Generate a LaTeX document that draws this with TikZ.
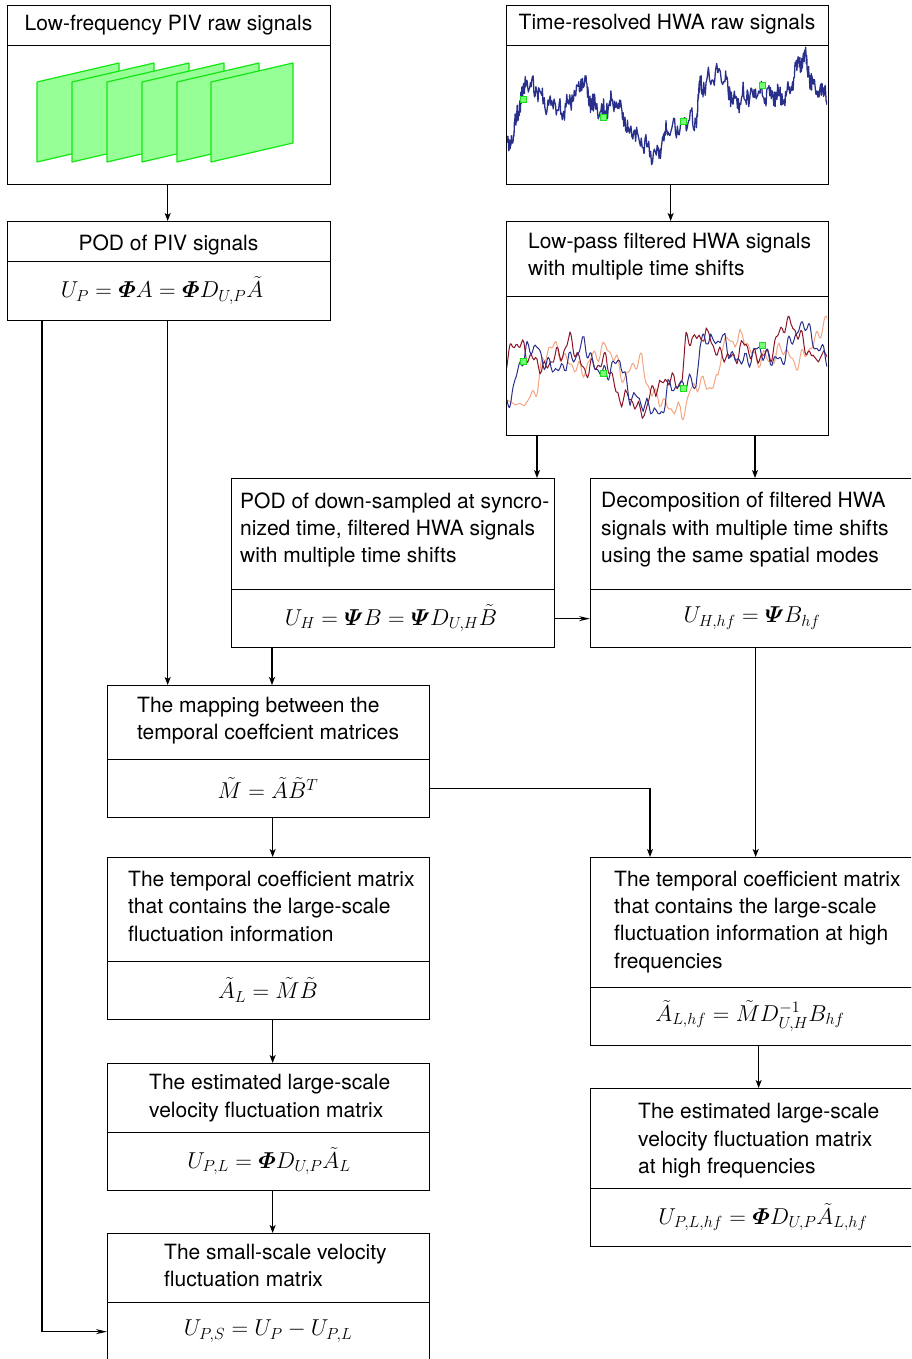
\RequirePackage{fix-cm}
\documentclass[tikz,border=0pt]{standalone}
\usepackage{amsmath}
\usepackage[no-math]{fontspec}
\setmainfont{TeX Gyre Heros}
\usetikzlibrary{arrows.meta}
\definecolor{navy}{RGB}{40,48,140}
\definecolor{dred}{RGB}{140,20,40}
\definecolor{salmon}{RGB}{244,165,130}
\definecolor{pfill}{RGB}{150,255,150}
\definecolor{pline}{RGB}{20,230,20}
\definecolor{gfill}{RGB}{120,255,120}
\definecolor{gline}{RGB}{30,220,30}
\tikzset{
  box/.style={draw=black, line width=1.3pt, inner sep=0pt, anchor=north west, rectangle},
  txt/.style={inner sep=0pt, align=left, anchor=north west, font=\fontsize{21}{27.3}\selectfont},
  ctxt/.style={txt, anchor=north},
  eq/.style={inner sep=0pt, font=\fontsize{23}{27.3}\selectfont},
  arr/.style={line width=1.2pt, -{Stealth[length=8pt,width=6pt,inset=2pt]}},
  harr/.style={line width=1.2pt, -{Stealth[length=11pt,width=5pt,inset=3.5pt]}},
  plane/.style={fill=pfill, draw=pline, line width=1.2pt, line join=round},
  gsq/.style={fill=gfill, draw=gline, line width=1pt},
}
\begin{document}
\begin{tikzpicture}[x=1pt,y=-1pt]
\useasboundingbox (0,0) rectangle (911,1359);
\clip (0,0) rectangle (911,1359);
\pgfmathsetseed{7}

% ---------- boxes ----------
\node[box, minimum width=323pt, minimum height=40pt]  (b1h) at (7,5) {};
\node[box, minimum width=323pt, minimum height=139pt] (b1b) at (7,45) {};
\node[box, minimum width=322pt, minimum height=40pt]  (hwah) at (506,5) {};
\node[box, minimum width=322pt, minimum height=139pt] (hwab) at (506,45) {};
\node[box, minimum width=323pt, minimum height=40pt]  (pivh) at (7,221) {};
\node[box, minimum width=323pt, minimum height=59pt]  (pivm) at (7,261) {};
\node[box, minimum width=322pt, minimum height=75pt]  (lph) at (506,221) {};
\node[box, minimum width=322pt, minimum height=139pt] (lpb) at (506,296) {};
\node[box, minimum width=323pt, minimum height=111pt] (podhh) at (231,478) {};
\node[box, minimum width=323pt, minimum height=58pt]  (podhm) at (231,589) {};
\node[box, minimum width=324pt, minimum height=111pt] (dech) at (590,478) {};
\node[box, minimum width=324pt, minimum height=58pt]  (decm) at (590,589) {};
\node[box, minimum width=322pt, minimum height=74pt]  (maph) at (107,685) {};
\node[box, minimum width=322pt, minimum height=58pt]  (mapm) at (107,759) {};
\node[box, minimum width=322pt, minimum height=104pt] (templh) at (107,857) {};
\node[box, minimum width=322pt, minimum height=58pt]  (templm) at (107,961) {};
\node[box, minimum width=324pt, minimum height=130pt] (temprh) at (590,857) {};
\node[box, minimum width=324pt, minimum height=58pt]  (temprm) at (590,987) {};
\node[box, minimum width=322pt, minimum height=69pt]  (estlh) at (107,1063) {};
\node[box, minimum width=322pt, minimum height=58pt]  (estlm) at (107,1132) {};
\node[box, minimum width=324pt, minimum height=100pt] (estrh) at (590,1088) {};
\node[box, minimum width=324pt, minimum height=58pt]  (estrm) at (590,1188) {};
\node[box, minimum width=322pt, minimum height=69pt]  (smallh) at (107,1233) {};
\node[box, minimum width=322pt, minimum height=58pt]  (smallm) at (107,1302) {};

% ---------- header texts ----------
\node[ctxt] (t1) at (168.5,14.9) {Low-frequency PIV raw signals};
\node[ctxt] (t2) at (667,14.4) {Time-resolved HWA raw signals};
\node[ctxt] (t3) at (168.5,234.2) {POD of PIV signals};
\node[txt] (t4) at (528,232.9) {Low-pass filtered HWA signals\\with multiple time shifts};
\node[txt] (t5) at (240,492.2) {POD of down-sampled at syncro-\\nized time, filtered HWA signals\\with multiple time shifts};
\node[txt] (t6) at (601,492.2) {Decomposition of filtered HWA\\signals with multiple time shifts\\using the same spatial modes};
\node[txt] (t7) at (137,696.9) {The mapping between the\\temporal coeffcient matrices};
\node[txt] (t8) at (128,870.9) {The temporal coefficient matrix\\that contains the large-scale\\fluctuation information};
\node[txt] (t9) at (614,870.6) {The temporal coefficient matrix\\that contains the large-scale\\fluctuation information at high\\frequencies};
\node[txt] (t10) at (149,1074.2) {The estimated large-scale\\velocity fluctuation matrix};
\node[txt] (t11) at (638,1103.2) {The estimated large-scale\\velocity fluctuation matrix\\at high frequencies};
\node[txt] (t12) at (164,1243.9) {The small-scale velocity\\fluctuation matrix};

% ---------- equations ----------
\node[eq] (e1) at (162,290.5) {$U_P = \boldsymbol{\varPhi} A = \boldsymbol{\varPhi} D_{U,P}\tilde{A}$};
\node[eq] (e2) at (391,618) {$U_H = \boldsymbol{\varPsi} B = \boldsymbol{\varPsi} D_{U,H}\tilde{B}$};
\node[eq] (e3) at (752,618) {$U_{H,hf} = \boldsymbol{\varPsi} B_{hf}$};
\node[eq] (e4) at (268,788) {$\tilde{M} = \tilde{A}\tilde{B}^T$};
\node[eq] (e5) at (268,990) {$\tilde{A}_L = \tilde{M}\tilde{B}$};
\node[eq] (e6) at (750,1016) {$\tilde{A}_{L,hf} = \tilde{M}D^{-1}_{U,H}B_{hf}$};
\node[eq] (e7) at (269,1161) {$U_{P,L} = \boldsymbol{\varPhi} D_{U,P}\tilde{A}_L$};
\node[eq] (e8) at (763,1217) {$U_{P,L,hf} = \boldsymbol{\varPhi} D_{U,P}\tilde{A}_{L,hf}$};
\node[eq] (e9) at (268,1331) {$U_{P,S} = U_P - U_{P,L}$};

% ---------- PIV planes ----------
\foreach \L in {37,72,107,142,177,211}
  \draw[plane] (\L,82) -- (\L+82,63) -- (\L+82,143) -- (\L,162) -- cycle;

% ---------- raw HWA signal ----------
\begin{scope}
\clip (507,46) rectangle (827,183);
\draw[navy, line width=1.3pt, line join=round]
  (507,142)
  \foreach \xe/\ye [remember=\xe as \xo (initially 507), remember=\ye as \yo (initially 142)] in
  {514/128, 520/102, 527/88, 538/88, 548/106, 560/108, 572/98, 584/82, 592/100, 603/115,
   612/105, 620/100, 630/135, 645/143, 660/155, 668/128, 683/123, 696/122, 700/85, 706/78,
   725/80, 735/100, 748/98, 760/88, 772/100, 782/98, 790/83, 800/66, 806/62, 812/80, 820/88, 827/98}
  { \foreach \k [evaluate=\k as \U using {\xo+(\xe-\xo)*\k/16-650}] in {1,...,16}
    { -- ({\U+650}, {\yo+(\ye-\yo)*\k/16+9*rand+5*sin(\U*41+30)+4*sin(\U*13+100)}) } };
\end{scope}
\foreach \gx/\gy in {523/100, 603/118, 683/122, 762/86}
  \draw[gsq] (\gx-3,\gy-3) rectangle (\gx+3,\gy+3);

% ---------- filtered HWA signals ----------
\begin{scope}
\clip (507,297) rectangle (827,434);
\draw[salmon, line width=1pt, line join=round, xshift=22pt]
  (470,403)
  \foreach \xe/\ye [remember=\xe as \xo (initially 470), remember=\ye as \yo (initially 142)] in
  {507/142, 514/128, 520/102, 527/88, 538/88, 548/106, 560/108, 572/98, 584/82, 592/100, 603/115,
   612/105, 620/100, 630/135, 645/143, 660/155, 668/128, 683/123, 696/122, 700/85, 706/78,
   725/80, 735/100, 748/98, 760/88, 772/100, 782/98, 790/83, 800/66, 806/62, 812/80, 820/88, 827/98, 870/100}
  { \foreach \k [evaluate=\k as \X using {\xo+(\xe-\xo)*\k/8}, evaluate=\k as \Y using {\yo+(\ye-\yo)*\k/8}, evaluate=\k as \U using {\xo+(\xe-\xo)*\k/8-650}] in {1,...,8}
    { -- (\X, {\Y+261+5*sin(\U*29+80)+4*sin(\U*47+300)+3*sin(\U*17+170)}) } };
\draw[dred, line width=1pt, line join=round, xshift=-14pt]
  (470,400)
  \foreach \xe/\ye [remember=\xe as \xo (initially 470), remember=\ye as \yo (initially 142)] in
  {507/142, 514/128, 520/102, 527/88, 538/88, 548/106, 560/108, 572/98, 584/82, 592/100, 603/115,
   612/105, 620/100, 630/135, 645/143, 660/155, 668/128, 683/123, 696/122, 700/85, 706/78,
   725/80, 735/100, 748/98, 760/88, 772/100, 782/98, 790/83, 800/66, 806/62, 812/80, 820/88, 827/98, 870/100}
  { \foreach \k [evaluate=\k as \X using {\xo+(\xe-\xo)*\k/8}, evaluate=\k as \Y using {\yo+(\ye-\yo)*\k/8}, evaluate=\k as \U using {\xo+(\xe-\xo)*\k/8-650}] in {1,...,8}
    { -- (\X, {\Y+258+5*sin(\U*31+200)+4*sin(\U*53+120)+3*sin(\U*19+30)}) } };
\draw[navy, line width=1pt, line join=round]
  (470,403)
  \foreach \xe/\ye [remember=\xe as \xo (initially 470), remember=\ye as \yo (initially 142)] in
  {507/142, 514/128, 520/102, 527/88, 538/88, 548/106, 560/108, 572/98, 584/82, 592/100, 603/115,
   612/105, 620/100, 630/135, 645/143, 660/155, 668/128, 683/123, 696/122, 700/85, 706/78,
   725/80, 735/100, 748/98, 760/88, 772/100, 782/98, 790/83, 800/66, 806/62, 812/80, 820/88, 827/98, 870/100}
  { \foreach \k [evaluate=\k as \X using {\xo+(\xe-\xo)*\k/8}, evaluate=\k as \Y using {\yo+(\ye-\yo)*\k/8}, evaluate=\k as \U using {\xo+(\xe-\xo)*\k/8-650}] in {1,...,8}
    { -- (\X, {\Y+261+5*sin(\U*33+10)+4*sin(\U*51+60)+2*sin(\U*21+200)}) } };
\end{scope}
\foreach \gx/\gy in {523/361, 603/373, 683/388, 762/345}
  \draw[gsq] (\gx-3,\gy-3) rectangle (\gx+3,\gy+3);

% ---------- connectors ----------
\draw[arr] ([xshift=-1.5pt]b1b.south) -- ([xshift=-1.5pt]pivh.north);
\draw[arr] ([xshift=3pt]hwab.south) -- ([xshift=3pt]lph.north);
\draw[arr] ([xshift=31pt]lpb.south west) -- ([xshift=31pt]lpb.south west |- podhh.north);
\draw[arr] ([xshift=249pt]lpb.south west) -- ([xshift=249pt]lpb.south west |- dech.north);
\draw[harr] (podhm.east) -- (decm.west);
\draw[harr] ([xshift=35pt]pivm.south west) |- (smallm.west);
\draw[arr] ([xshift=-1.5pt]pivm.south) -- ([xshift=-1.5pt]pivm.south |- maph.north);
\draw[arr] ([xshift=41pt]podhm.south west) -- ([xshift=41pt]podhm.south west |- maph.north);
\draw[arr] ([xshift=4pt]mapm.south) -- ([xshift=4pt]templh.north);
\draw[arr] (mapm.east) -| ([xshift=60pt]temprh.north west);
\draw[arr] ([xshift=3pt]decm.south) -- ([xshift=3pt]temprh.north);
\draw[arr] ([xshift=4pt]templm.south) -- ([xshift=4pt]estlh.north);
\draw[arr] ([xshift=4pt]estlm.south) -- ([xshift=4pt]smallh.north);
\draw[arr] ([xshift=6pt]temprm.south) -- ([xshift=6pt]estrh.north);
\end{tikzpicture}
\end{document}
